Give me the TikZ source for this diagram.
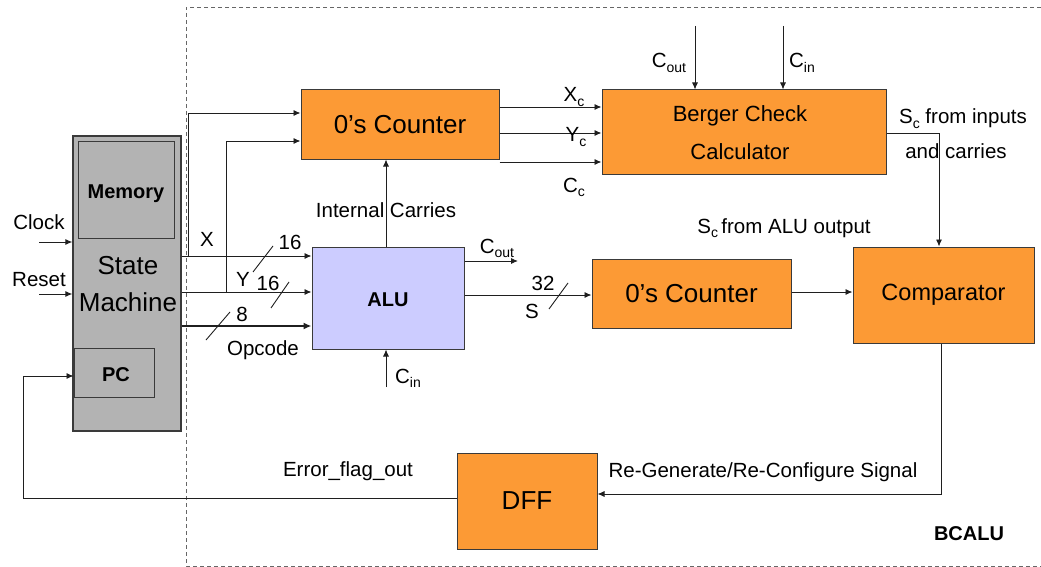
\documentclass[tikz,border=0pt]{standalone}
\usepackage{fontspec}
\setmainfont{Liberation Sans}
\usetikzlibrary{arrows.meta}
\newcommand\sbs[1]{\raisebox{-0.45ex}{\fontsize{14}{14}\selectfont #1}}
\definecolor{orng}{HTML}{FC9A35}
\definecolor{lav}{HTML}{CCCCFF}
\definecolor{smgray}{HTML}{B3B3B3}
\definecolor{edge}{HTML}{3A3A3A}
\begin{document}
\begin{tikzpicture}[x=1pt,y=-1pt,
  blk/.style={draw=edge,line width=1pt,inner sep=0pt},
  obox/.style={blk,fill=orng},
  arr/.style={draw=black!88,line width=0.9pt,-{Latex[length=7pt,width=6pt]}},
  wire/.style={draw=black!88,line width=0.9pt},
  lbl/.style={inner sep=0pt,anchor=base,font=\fontsize{20.5}{24}\selectfont},
  big/.style={font=\fontsize{26}{36}\selectfont},
  bld/.style={inner sep=0pt,anchor=base,font=\fontsize{20}{24}\selectfont\bfseries}]
\useasboundingbox (0,0) rectangle (1041,567);
% BCALU border
\draw[gray!80!black,line width=0.9pt,dash pattern=on 4pt off 3pt] (1041,7) -- (186,7) -- (186,566) -- (1041,566);
% State machine
\node[blk,fill=smgray,line width=1.3pt,minimum width=108pt,minimum height=295pt] (SM) at (127,283.5) {};
\node[blk,fill=smgray,minimum width=96pt,minimum height=96pt] (MEM) at (126,190) {};
\node[bld] (memt) at (126,198) {Memory};
\node[blk,fill=smgray,minimum width=80pt,minimum height=49pt] (PC) at (114,372.5) {};
\node[bld] (pct) at (116,381) {PC};
\node[inner sep=0pt,anchor=base,big] (SMT1) at (128,274) {State};
\node[inner sep=0pt,anchor=base,big] (SMT2) at (128,311.5) {Machine};
% blocks
\node[obox,minimum width=198pt,minimum height=69pt,big] (C1) at (400,124.5) {0’s Counter};
\node[obox,minimum width=284pt,minimum height=84pt] (BC) at (744,132) {};
\node[lbl,font=\fontsize{22}{26}\selectfont] (bct1) at (740,122) {Berger Check};
\node[lbl,font=\fontsize{22}{26}\selectfont] (bct2) at (740,160) {Calculator};
\node[blk,fill=lav,minimum width=152pt,minimum height=102pt] (ALU) at (388,298) {};
\node[bld] (alut) at (388,306) {ALU};
\node[obox,minimum width=199pt,minimum height=69pt,big] (C2) at (691.5,293.5) {0’s Counter};
\node[obox,minimum width=181pt,minimum height=96pt,font=\fontsize{23.5}{28}\selectfont] (CMP) at (943.5,295) {Comparator};
\node[obox,minimum width=140pt,minimum height=96pt,big] (DFF) at (527,501) {DFF};
% inputs to SM
\node[lbl] (clk) at (39,229) {Clock};
\node[lbl] (rst) at (39,286) {Reset};
\coordinate (clkS) at (39,242);
\coordinate (rstS) at (39,294);
\draw[arr] (clkS) -- (SM.west |- clkS);
\draw[arr] (rstS) -- (SM.west |- rstS);
% X, Y, Opcode
\draw[arr] (SM.east |- 0,256) -- (ALU.west |- 0,256);
\draw[arr] (SM.east |- 0,292) -- (ALU.west |- 0,292);
\draw[arr,line width=2.4pt,-{Latex[length=8pt,width=7pt]}] (SM.east |- 0,326) -- (ALU.west |- 0,326);
\coordinate (tx) at (188,256);
\coordinate (ty) at (226,292);
\draw[arr] (tx) |- (C1.west |- 0,113);
\draw[arr] (ty) |- (C1.west |- 0,141);
\node[lbl] (xl) at (207,246) {X};
\node[lbl] (x16) at (290,249) {16};
\draw[wire] (253,272) -- (273,246);
\node[lbl] (yl) at (243,286.5) {Y};
\node[lbl] (y16) at (268,290) {16};
\draw[wire] (271,308) -- (289,282);
\node[lbl] (o8) at (242,321.5) {8};
\draw[wire] (206,340) -- (230,312);
\node[lbl] (opl) at (263,355) {Opcode};
% internal carries
\draw[arr] (ALU.north -| 386,0) -- (C1.south -| 386,0);
\node[lbl] (icl) at (386,217.5) {Internal Carries};
% Cout / Cin at ALU
\coordinate (coutE) at (518,261);
\draw[arr] (ALU.east |- coutE) -- (coutE);
\node[lbl] (coutl) at (497,253) {C\sbs{out}};
\coordinate (cinS) at (386,387);
\draw[arr] (cinS) -- (ALU.south -| cinS);
\node[lbl] (cinl) at (408,383) {C\sbs{in}};
% S
\draw[arr] (ALU.east |- 0,295) -- (C2.west |- 0,295);
\node[lbl] (s32) at (543,290.5) {32};
\node[lbl] (sl) at (532,318) {S};
\draw[wire] (549,309) -- (568,283);
% Counter1 to Berger
\draw[arr] (C1.east |- 0,107) -- (BC.west |- 0,107);
\draw[arr] (C1.east |- 0,133) -- (BC.west |- 0,133);
\draw[arr] (C1.east |- 0,162) -- (BC.west |- 0,162);
\node[lbl] (xcl) at (574,102) {X\sbs{c}};
\node[lbl] (ycl) at (576,141.5) {Y\sbs{c}};
\node[lbl] (ccl) at (574,192) {C\sbs{c}};
% Cout, Cin into Berger
\coordinate (bco) at (695,26);
\coordinate (bci) at (783,26);
\draw[arr] (bco) -- (BC.north -| bco);
\draw[arr] (bci) -- (BC.north -| bci);
\node[lbl] (bcol) at (669,68) {C\sbs{out}};
\node[lbl] (bcil) at (802,68) {C\sbs{in}};
% Sc from inputs
\draw[arr] (BC.east |- 0,133) -| (CMP.north -| 939,0);
\node[lbl] (sc1) at (963,124) {S\sbs{c} from inputs};
\node[lbl] (sc2) at (956,158) {and carries};
\node[lbl] (sc3) at (784,233) {S\sbs{c}\,from ALU output};
% Counter2 to comparator
\draw[arr] (C2.east |- 0,292) -- (CMP.west |- 0,292);
% comparator to DFF
\draw[arr] (CMP.south -| 941,0) |- (DFF.east |- 0,494);
\node[lbl] (rgl) at (763,477) {Re-Generate/Re-Configure Signal};
% DFF to PC
\coordinate (fb) at (23,376);
\draw[arr] (DFF.west |- 0,498) -| (fb) -- (PC.west |- fb);
\node[lbl] (efl) at (348,476) {Error\_flag\_out};
\node[bld] (bcalu) at (969,540) {BCALU};
\end{tikzpicture}
\end{document}
